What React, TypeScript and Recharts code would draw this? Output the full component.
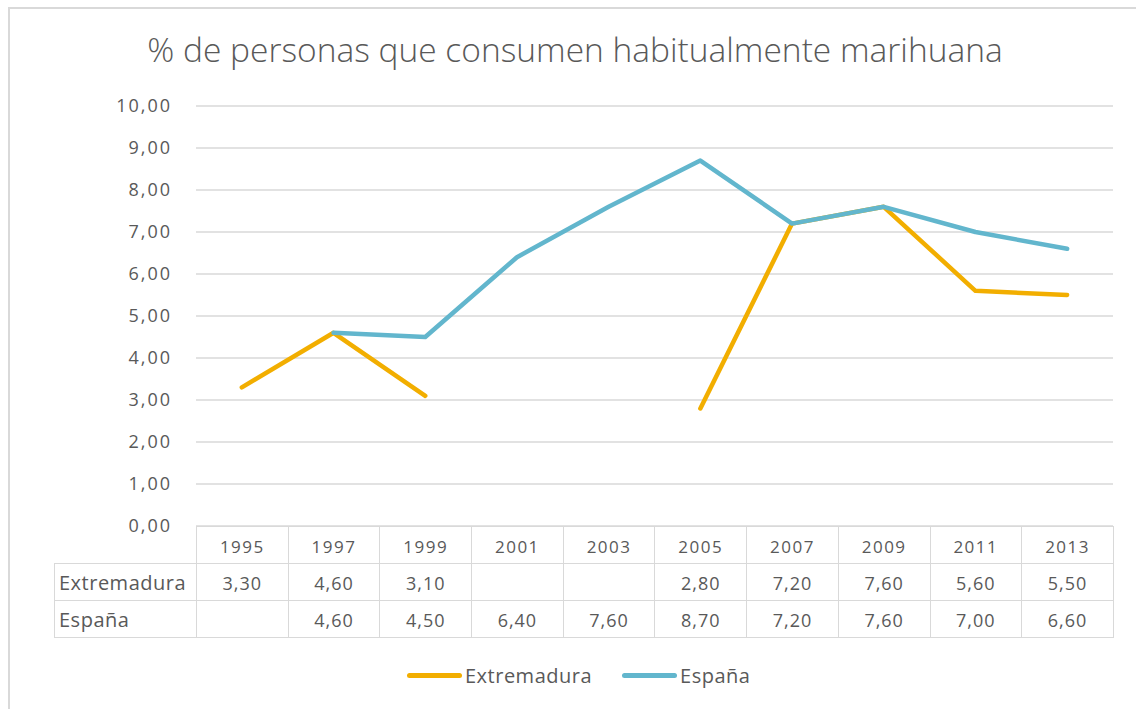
import { LineChart, Line, XAxis, YAxis, CartesianGrid } from 'recharts';

const years = ['1995', '1997', '1999', '2001', '2003', '2005', '2007', '2009', '2011', '2013'];
const extremadura = [3.3, 4.6, 3.1, null, null, 2.8, 7.2, 7.6, 5.6, 5.5];
const espana = [null, 4.6, 4.5, 6.4, 7.6, 8.7, 7.2, 7.6, 7.0, 6.6];
const yTicks = [0, 1, 2, 3, 4, 5, 6, 7, 8, 9, 10];

const seriesNames = ['Extremadura', 'España'];
const seriesColors = ['#F2AE00', '#62B6CD'];

const data = years.map((y, i) => ({ year: y, ext: extremadura[i], esp: espana[i] }));

const fmt = (v: number | null) => (v == null ? '' : v.toFixed(2).replace('.', ','));

const FONT = '"Open Sans", Lato, sans-serif';
const TEXT = '#595959';
const LINE = '#d9d9d9';

const cell: React.CSSProperties = {
  border: `1px solid ${LINE}`,
  textAlign: 'center',
  padding: 0,
  fontSize: 18,
  letterSpacing: 1,
  color: TEXT,
};

export default function App() {
  const rows = [
    { name: seriesNames[0], values: extremadura },
    { name: seriesNames[1], values: espana },
  ];
  return (
    <div style={{ position: 'absolute', left: 0, top: 0, width: 1136, height: 709, background: '#fff', fontFamily: FONT, overflow: 'hidden' }}>
      <div style={{ position: 'absolute', left: 8, top: 7, width: 1200, height: 800, borderTop: `2px solid ${LINE}`, borderLeft: `2px solid ${LINE}` }} />
      <div style={{ position: 'absolute', left: 0, top: 29, width: 1150, textAlign: 'center', fontSize: 33.5, fontWeight: 300, color: TEXT, lineHeight: '40px' }}>
        % de personas que consumen habitualmente marihuana
      </div>
      <div style={{ position: 'absolute', left: 0, top: 0 }}>
        <LineChart width={1136} height={709} data={data} margin={{ top: 106, right: 23, bottom: 183, left: 136 }}>
          <CartesianGrid vertical={false} stroke={LINE} strokeWidth={1.5} />
          <XAxis dataKey="year" hide scale="band" />
          <YAxis
            width={60}
            domain={[0, 10]}
            ticks={yTicks}
            tickFormatter={(v: number) => fmt(v)}
            axisLine={false}
            tickLine={false}
            tickSize={0}
            tickMargin={24}
            tick={{ fontSize: 18, fill: TEXT, fontFamily: FONT, letterSpacing: 2 }}
          />
          <Line dataKey="ext" stroke={seriesColors[0]} strokeWidth={4.5} strokeLinecap="round" strokeLinejoin="round" dot={false} isAnimationActive={false} />
          <Line dataKey="esp" stroke={seriesColors[1]} strokeWidth={4.5} strokeLinecap="round" strokeLinejoin="round" dot={false} isAnimationActive={false} />
        </LineChart>
      </div>
      <table style={{ position: 'absolute', left: 54, top: 526, width: 1060, borderCollapse: 'collapse', tableLayout: 'fixed', fontFamily: FONT }}>
        <colgroup>
          <col style={{ width: 142 }} />
          {years.map((y) => <col key={y} />)}
        </colgroup>
        <tbody>
          <tr style={{ height: 37 }}>
            <td style={{ border: 'none' }} />
            {years.map((y) => (
              <td key={y} style={{ ...cell, fontSize: 17, letterSpacing: 1.5, paddingTop: 2 }}>{y}</td>
            ))}
          </tr>
          {rows.map((r) => (
            <tr key={r.name} style={{ height: 37 }}>
              <td style={{ ...cell, textAlign: 'left', paddingLeft: 4, fontSize: 20, letterSpacing: 0.5 }}>{r.name}</td>
              {r.values.map((v, i) => (
                <td key={i} style={{ ...cell, paddingTop: 2 }}>{fmt(v)}</td>
              ))}
            </tr>
          ))}
        </tbody>
      </table>
      <div style={{ position: 'absolute', left: 407, top: 662, display: 'flex', alignItems: 'center', height: 26, fontSize: 20, letterSpacing: 0.5, color: TEXT }}>
        {seriesNames.map((n, i) => (
          <div key={n} style={{ display: 'flex', alignItems: 'center', marginRight: 30 }}>
            <span style={{ display: 'inline-block', width: 55, height: 5, borderRadius: 3, background: seriesColors[i], marginRight: 3 }} />
            <span>{n}</span>
          </div>
        ))}
      </div>
    </div>
  );
}
